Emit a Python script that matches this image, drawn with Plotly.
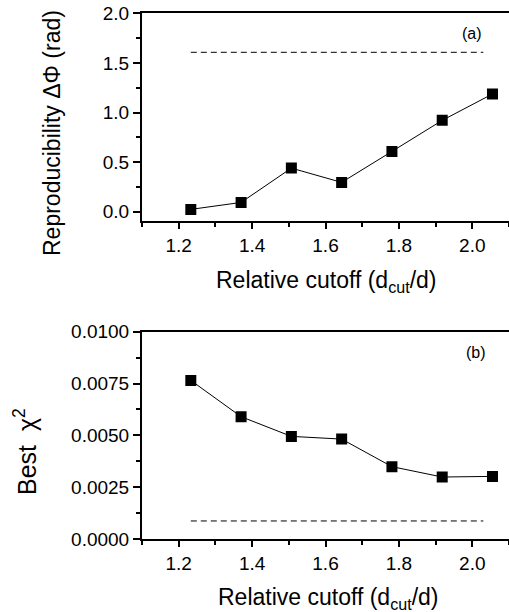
import plotly.graph_objects as go

W, H = 509, 612

# Data
cutoff = [1.233, 1.370, 1.507, 1.644, 1.781, 1.918, 2.055]
reproducibility = [0.024, 0.094, 0.44, 0.296, 0.608, 0.921, 1.187]
best_chi2 = [0.00765, 0.00590, 0.00495, 0.00482, 0.00349, 0.00299, 0.00302]
ref_level_a = 1.607
ref_level_b = 0.00087
ref_x = [1.233, 2.03]

x_ticks = [1.2, 1.4, 1.6, 1.8, 2.0]
x_ticklabels = ["1.2", "1.4", "1.6", "1.8", "2.0"]
ya_ticks = [0.0, 0.5, 1.0, 1.5, 2.0]
ya_ticklabels = ["0.0", "0.5", "1.0", "1.5", "2.0"]
yb_ticks = [0.0, 0.0025, 0.005, 0.0075, 0.01]
yb_ticklabels = ["0.0000", "0.0025", "0.0050", "0.0075", "0.0100"]

FONT = "Liberation Sans, Arial, Helvetica, sans-serif"


def px(x):
    return x / W


def py(y):
    return 1 - y / H


fig = go.Figure()

marker = dict(symbol="square", size=11, color="black")
fig.add_trace(go.Scatter(x=cutoff, y=reproducibility, mode="lines+markers",
                         line=dict(color="black", width=1), marker=marker,
                         xaxis="x", yaxis="y", showlegend=False))
fig.add_trace(go.Scatter(x=ref_x, y=[ref_level_a] * 2, mode="lines",
                         line=dict(color="black", width=1, dash="6px,4px"),
                         xaxis="x", yaxis="y", showlegend=False))
fig.add_trace(go.Scatter(x=cutoff, y=best_chi2, mode="lines+markers",
                         line=dict(color="black", width=1), marker=marker,
                         xaxis="x2", yaxis="y2", showlegend=False))
fig.add_trace(go.Scatter(x=ref_x, y=[ref_level_b] * 2, mode="lines",
                         line=dict(color="black", width=1, dash="6px,4px"),
                         xaxis="x2", yaxis="y2", showlegend=False))

xdom = [px(142), 1.0]
tickfont = dict(family=FONT, size=19, color="black")
common_x = dict(range=[1.1, 2.1], domain=xdom, showline=True, linecolor="black",
                linewidth=2, mirror=True, ticks="outside", ticklen=6, tickwidth=1.5,
                tickcolor="black", tickvals=x_ticks, ticktext=x_ticklabels,
                tickfont=tickfont, showgrid=False, zeroline=False, automargin=False,
                minor=dict(ticks="outside", ticklen=4, tickwidth=1.5, tickcolor="black",
                           tickvals=[1.1, 1.3, 1.5, 1.7, 1.9, 2.1], showgrid=False))
common_y = dict(showline=True, linecolor="black", linewidth=2, ticks="outside",
                ticklen=7, tickwidth=1.5, tickcolor="black", tickfont=tickfont,
                showgrid=False, zeroline=False, automargin=False)

fig.update_layout(
    width=W, height=H, margin=dict(l=0, r=0, t=0, b=0, autoexpand=False),
    paper_bgcolor="white", plot_bgcolor="white",
    xaxis=dict(**common_x, anchor="y"),
    xaxis2=dict(**common_x, anchor="y2"),
    yaxis=dict(**common_y, anchor="x",
               range=[-0.09, 2.0], domain=[py(220.7), py(13.3)],
               tickvals=ya_ticks, ticktext=ya_ticklabels,
               minor=dict(ticks="outside", ticklen=4, tickwidth=1.5, tickcolor="black",
                          tickvals=[0.25, 0.75, 1.25, 1.75], showgrid=False)),
    yaxis2=dict(**common_y, anchor="x2",
                range=[0, 0.01], domain=[py(539), py(331.7)],
                tickvals=yb_ticks, ticktext=yb_ticklabels,
                minor=dict(ticks="outside", ticklen=4, tickwidth=1.5, tickcolor="black",
                           tickvals=[0.00125, 0.00375, 0.00625, 0.00875], showgrid=False)),
    showlegend=False,
)

title_font = dict(family=FONT, size=23, color="black")
ytitle_a_font = dict(family=FONT, size=23, color="black")
ytitle_b_font = dict(family=FONT, size=25, color="black")
label_font = dict(family=FONT, size=16, color="black")
annotations = [
    dict(text="Reproducibility ΔΦ (rad)", x=px(52), y=py(133), textangle=-90, font=ytitle_a_font),
    dict(text="Best\u00a0\u00a0χ<sup>2</sup>", x=px(25), y=py(452), textangle=-90, font=ytitle_b_font),
    dict(text="Relative cutoff (d<sub>cut</sub>/d)", x=px(326), y=py(282), font=title_font),
    dict(text="Relative cutoff (d<sub>cut</sub>/d)", x=px(328), y=py(598), font=title_font),
    dict(text="(a)", x=px(472), y=py(33), font=label_font),
    dict(text="(b)", x=px(476), y=py(352), font=label_font),
]
for a in annotations:
    a.update(xref="paper", yref="paper", showarrow=False, xanchor="center", yanchor="middle")
fig.update_layout(annotations=annotations)

fig.write_html(
    "out.html",
    config={"displayModeBar": False},
    post_script="document.body.style.margin='0';document.body.style.padding='0';"
                "document.body.style.overflow='hidden';",
)
